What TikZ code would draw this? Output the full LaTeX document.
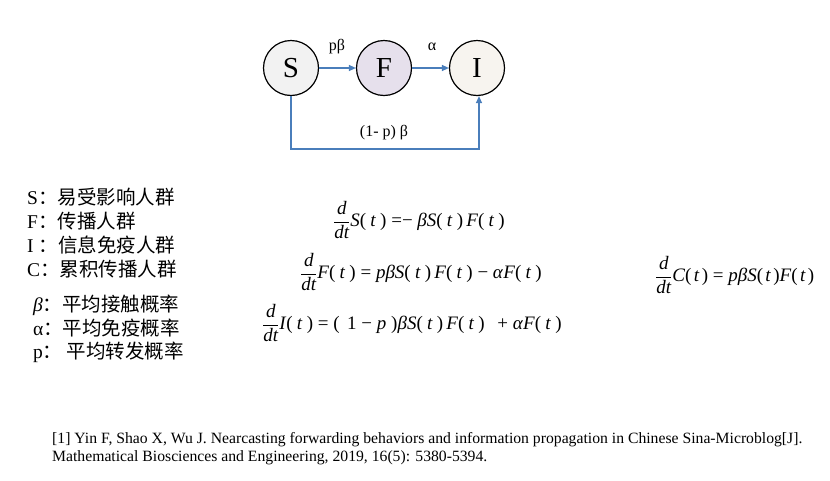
\documentclass[tikz,border=0pt]{standalone}
\usepackage{amsmath}
\usepackage{fontspec}
\setmainfont{Liberation Serif}
\newfontfamily\cjk{Noto Sans CJK SC}
\usetikzlibrary{arrows.meta}
\definecolor{lineblue}{HTML}{4A7EBB}
\definecolor{sfill}{HTML}{F2F2F2}
\definecolor{ffill}{HTML}{E6E0EC}
\definecolor{ifill}{HTML}{F7F4EF}
\newcommand\myft[1]{\textit{#1}(\kern0.22em\textit{t}\kern0.22em)}
\newcommand\myftn[1]{\textit{#1}(\kern0.12em\textit{t}\kern0.12em)}
\newcommand\myddt{$\dfrac{\textit{d}}{\textit{dt}}$}
\tikzset{
  state/.style={circle, draw=black, line width=1.2pt, minimum size=55pt, inner sep=0pt, font=\rmfamily\fontsize{29}{31}\selectfont},
  flow/.style={draw=lineblue, line width=1.2pt, -{Triangle[length=7pt,width=6pt]}},
  lbl/.style={font=\rmfamily\fontsize{16}{18}\selectfont},
  legend/.style={anchor=west, inner sep=0pt, font=\rmfamily\fontsize{19.5}{21}\selectfont},
  eq/.style={anchor=west, inner sep=0pt, font=\rmfamily\fontsize{19}{21}\selectfont},
  cite/.style={anchor=west, inner sep=0pt, font=\rmfamily\fontsize{15.7}{17}\selectfont}
}
\begin{document}
\begin{tikzpicture}[x=1pt,y=-1pt]
\useasboundingbox (0,0) rectangle (830,480);
\node[state, fill=sfill] (S) at (291,68) {S};
\node[state, fill=ffill] (F) at (384,68) {F};
\node[state, fill=ifill] (I) at (477,68) {I};
\draw[flow] (S) -- (F);
\draw[flow] (F) -- (I);
\coordinate (c1) at (291,149);
\coordinate (c2) at (479,149);
\draw[flow] (S.south) -- (c1) -- (c2) -- (I.south -| c2);
\node[lbl] (lpb) at (337,47) {pβ};
\node[lbl] (la) at (432,47) {α};
\node[lbl] (lpb2) at (384,133) {(1- p) β};

\node[legend] (t1) at (27,197) {S{\cjk：易受影响人群}};
\node[legend] (t2) at (27,221) {F{\cjk：传播人群}};
\node[legend] (t3) at (27,245) {I {\cjk：信息免疫人群}};
\node[legend] (t4) at (27,269) {C{\cjk：累积传播人群}};
\node[legend] (t5) at (33,305) {\textit{β}{\cjk：平均接触概率}};
\node[legend] (t6) at (33,328) {α{\cjk：平均免疫概率}};
\node[legend] (t7) at (33,352) {p{\cjk：\ 平均转发概率}};

\node[eq] (e1) at (333,220) {\myddt\myft{S} =− \textit{β}\myft{S}\,\myft{F}};
\node[eq] (e2) at (300,272) {\myddt\myft{F} = \textit{pβ}\myft{S}\,\myft{F}\ − \textit{α}\myft{F}};
\node[eq] (e3) at (262,323) {\myddt\myft{I} = (\kern0.4em 1 − \textit{p}\kern0.25em)\textit{β}\myft{S}\,\myft{F}\ \ \,+ \textit{α}\myft{F}};
\node[eq] (e4) at (655,275) {\myddt\myftn{C} = \textit{pβ}\myftn{S}\myftn{F}};

\node[cite] (r1) at (52,440) {[1] Yin F, Shao X, Wu J. Nearcasting forwarding behaviors and information propagation in Chinese Sina-Microblog[J].};
\node[cite] (r2) at (52,458) {Mathematical Biosciences and Engineering, 2019, 16(5): 5380-5394.};
\end{tikzpicture}
\end{document}
